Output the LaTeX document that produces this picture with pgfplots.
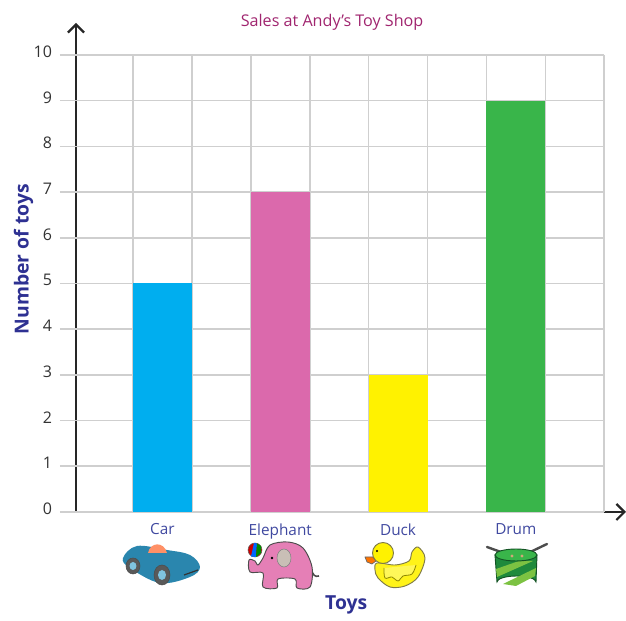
\documentclass[border=0pt]{standalone}
\usepackage{fontspec}
\setmainfont{Open Sans}
\usepackage{pgfplots}
\pgfplotsset{compat=1.18}
\usetikzlibrary{arrows.meta}

\definecolor{gridc}{HTML}{CFCFCF}
\definecolor{carc}{HTML}{00AEEF}
\definecolor{elec}{HTML}{DB69AC}
\definecolor{duckc}{HTML}{FFF200}
\definecolor{drumc}{HTML}{39B54A}
\definecolor{titlec}{HTML}{A0256F}
\definecolor{labc}{HTML}{2E3192}
\definecolor{catc}{HTML}{4049A0}
\definecolor{carbody}{HTML}{2A86AE}
\definecolor{carhub}{HTML}{7FC4E0}
\definecolor{elebody}{HTML}{E57FB6}
\definecolor{drumdark}{HTML}{1F8A3C}
\definecolor{drumlight}{HTML}{7CC242}

\begin{document}
\begin{tikzpicture}[px/.style={shift={(-57pt,384pt)},x=0.75pt,y=-0.75pt}]
  % axis corner sits at reference pixel (76,512)
  \begin{axis}[
    scale only axis,
    width=412.5pt,
    height=366.75pt,
    axis lines=left,
    axis line style={line width=1.8pt,color=black!85,-{Straight Barb[length=6pt,width=12pt,line width=1.6pt]}},
    xmin=0.266, xmax=4.935,
    ymin=0, ymax=10.7,
    clip=false,
    ytick={0,1,2,3,4,5,6,7,8,9,10},
    xtick={1,2,3,4},
    xticklabels={Car,Elephant,Duck,Drum},
    major tick length=0pt,
    tick style={draw=none},
    /pgf/number format/assume math mode=true,
    yticklabel style={font=\fontsize{12}{14}\selectfont,color=black!80,xshift=-14.5pt,yshift=2.5pt},
    xticklabel style={font=\fontsize{11.5}{13}\selectfont,color=catc,yshift=-5pt},
    title={Sales at Andy’s Toy Shop},
    title style={at={(axis cs:2.44,10.53)},anchor=center,font=\fontsize{12.1}{14}\selectfont,color=titlec},
    xlabel={Toys},
    xlabel style={at={(axis cs:2.56,-2.03)},anchor=center,font=\fontsize{14.5}{16}\selectfont\bfseries,color=labc},
    ylabel={Number of toys},
    ylabel style={at={(axis cs:-0.18,5.53)},anchor=center,font=\fontsize{14.5}{16}\selectfont\bfseries,color=labc},
    ybar,
    bar width=0.5,
    bar shift=0pt,
  ]
    \pgfplotsinvokeforeach{0,1,...,10}{
      \draw[gridc,line width=1.2pt] (axis cs:0.13,#1) -- (axis cs:4.75,#1);
    }
    \pgfplotsinvokeforeach{0.75,1.25,...,4.75}{
      \draw[gridc,line width=1.2pt] (axis cs:#1,0) -- (axis cs:#1,10);
    }
    \addplot[fill=carc,draw=none] coordinates {(1,5)};
    \addplot[fill=elec,draw=none] coordinates {(2,7)};
    \addplot[fill=duckc,draw=none] coordinates {(3,3)};
    \addplot[fill=drumc,draw=none] coordinates {(4,9)};
  \end{axis}

  \begin{scope}[px]
    % car
    \fill[carbody]
      plot[smooth cycle,tension=.6] coordinates {(123,558) (137,546) (167,550) (190,555) (200,567) (190,577) (160,583) (130,568)};
    \fill[red!45!orange!60!white] (148,553) .. controls (150,542) and (164,541) .. (167,553) -- cycle;
    \draw[black!70,fill=black!65] (133,566) ellipse (7 and 8);
    \fill[carhub] (133,566) ellipse (3.5 and 4);
    \draw[black!70,fill=black!65] (162,575) ellipse (8 and 10);
    \fill[carhub] (162,575) ellipse (4 and 5);
    \draw[black!80,line width=.9pt] (184,575) -- (198,570);
    % elephant
    \draw[black!70,line width=1.2pt] (311,568) .. controls (313,576) and (315,577) .. (319,576);
    \draw[black!70,line width=.7pt,fill=elebody]
      plot[smooth cycle,tension=.55] coordinates {(249,560) (250,572) (263,573) (263,587) (277,588) (278,579) (295,579) (297,588) (310,587) (312,567) (303,548) (288,542) (270,545) (263,558) (258,565) (255,561)};
    \draw[black!50,fill=brown!30!gray!50!white] (284,558) ellipse (7 and 9);
    \fill[black] (272,558) circle (1.4);
    \draw[black!60,fill=red!80!black] (255,550) circle (7);
    \fill[blue!60!cyan] (254,543) -- (251,556.5) -- (256,557) -- (257,543.5) -- cycle;
    \fill[green!55!black] (257,543.5) -- (256,557) -- (261,553) -- (261,546) -- cycle;
    % duck
    \draw[black!60,line width=.5pt,fill=orange!90!red] (373,557) -- (365,557) -- (367,562) -- (372,564) -- (376,561) -- cycle;
    \draw[black!40!yellow!70!black,line width=.7pt,fill=duckc!90!white]
      plot[smooth cycle,tension=.55] coordinates {(377,563) (395,565) (409,561) (412,552) (418,547) (425,558) (418,577) (405,586) (390,587) (378,578) (375,570)};
    \draw[black!40!yellow!70!black,line width=.7pt,fill=duckc] (383,553) circle (10.5);
    \fill[black] (377,551) circle (1.2);
    \draw[olive,line width=.6pt,fill=duckc!65!white]
      plot[smooth,tension=.6] coordinates {(384,568) (385,578) (392,577) (398,581) (403,576) (412,574) (416,565)};
    % drum
    \draw[black!70,line width=1.8pt,line cap=round] (487,547) -- (512,556);
    \draw[black!70,line width=1.8pt,line cap=round] (547,544) -- (522,556);
    \draw[drumdark!60!black,line width=.7pt,fill=drumdark]
      (495,555) -- (497,582) arc (180:360:19.5 and 6) -- (537,555) -- cycle;
    \fill[drumlight] (496,569) -- (519,561) -- (533,561) -- (497,577) -- cycle;
    \fill[drumlight] (503,584) -- (536,568) -- (535,576) -- (516,586) -- cycle;
    \draw[drumdark!60!black,line width=.7pt,fill=drumc] (516,555) ellipse (21 and 6);
    \fill[brown!70!white] (512,556) circle (1.6) (522,556) circle (1.6);
  \end{scope}
  % keep the page at the reference's size
  \pgfresetboundingbox
  \begin{scope}[px]
    \useasboundingbox (0,0) rectangle (626,621);
  \end{scope}
\end{tikzpicture}
\end{document}
